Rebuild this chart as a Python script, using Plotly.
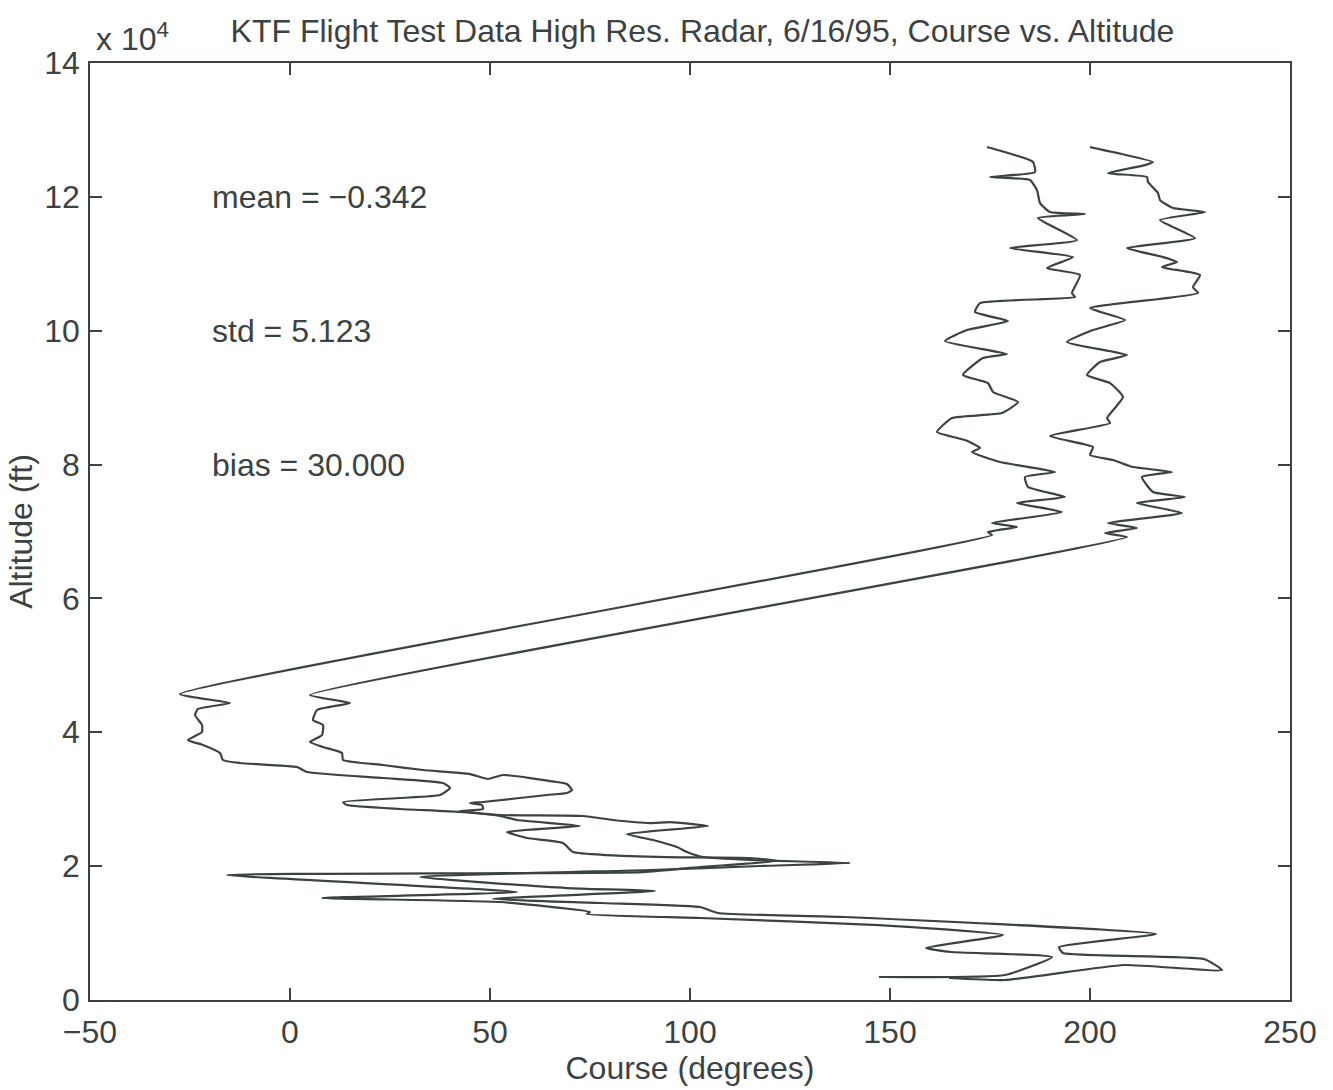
import plotly.graph_objects as go

# Left trace, ordered from top of plot downward
left_course = [174.25, 185.75, 186.25, 175, 185, 186.75, 187.5, 190, 198.75, 187,
               196.75, 180, 195.75, 189.25, 197.5, 195.5, 196.25, 172.5, 171.25, 179.5,
               169.25, 163.75, 179.25, 173.25, 168.25, 174.5, 175.75, 182, 178, 165.5,
               161.75, 168.75, 172.5, 170.5, 177.5, 191.25, 183.75, 184.5, 193.75, 181.75,
               193, 175.5, 181.75, 174.5, 175.5,
               -27.5, -15, -23, -23.75, -22, -22, -25.5, -21.75, -17.5, -16.75,
               -12.5, 1.75, 4.25, 23.25, 38.25, 40, 37.5, 27.5, 13.25, 14.25,
               27.5, 42.5, 52.5, 56.75, 72.5, 54.25, 59.25, 68.25, 70.75, 79.25,
               94.25, 115, 122, 102.5, 88.25, -15.75, 56.75, 8, 52.5, 75,
               74.25, 102.5, 147.25, 178.25, 159, 165.25, 190.5, 178.75, 147.25]
left_alt = [127440, 125200, 123700, 122960, 122510, 121010, 119070, 117730, 117430, 116830,
            113540, 112350, 111000, 109360, 108320, 105630, 105030, 104130, 102790, 101440,
            100100, 98450, 96510, 95910, 93380, 92180, 90840, 89340, 87700, 86950,
            84860, 83660, 82470, 81870, 80380, 78880, 78140, 76640, 75150, 74250,
            72910, 71260, 70670, 69920, 69470,
            45720, 44370, 43480, 42580, 41090, 40040, 38840, 38100, 36900, 35860,
            35410, 34810, 34060, 33170, 32420, 31670, 30630, 30180, 29580, 29130,
            28540, 28090, 27490, 26890, 26000, 25100, 24200, 23460, 22110, 21660,
            21360, 21210, 20770, 19870, 19120, 18680, 16140, 15240, 14640, 13150,
            12850, 12250, 11200, 9710, 7770, 7170, 6420, 3740, 3440]

# Right trace, ordered from top of plot downward
right_course = [200, 215.75, 213.75, 204.5, 214.25, 214.5, 217, 217.5, 220.75, 228.75,
                217.5, 226.25, 209.25, 218.25, 221.75, 218, 227.5, 225.75, 227, 200,
                208.75, 200.75, 194.25, 209.25, 202.5, 199.25, 205, 208.25, 204.25, 205,
                190, 200.75, 200, 205.75, 210.75, 220.5, 213, 215.75, 223.75, 211.75,
                223, 204.5, 211.75, 203.75, 209.25,
                5, 15, 6.75, 5.75, 8.25, 8, 5, 8.25, 13, 13.25,
                23.25, 33.25, 45, 49.5, 53.25, 66.75, 69.25, 70.5, 69.25, 64.25,
                48.25, 45, 48, 48.25, 42.5, 52.5, 73.25, 80.75, 90, 95,
                104.5, 84.25, 90.75, 96.75, 99.25, 103.25, 115, 140, 117.5, 90,
                32.5, 69.25, 91.25, 50.75, 77.5, 102.5, 107, 138.5, 216.5, 192.25,
                193.25, 228.5, 233, 208.5, 178.75, 164.75]
right_alt = [127440, 125200, 124750, 123550, 122960, 122210, 120570, 119520, 118330, 117730,
             116530, 113840, 112350, 111000, 110260, 109510, 108320, 106520, 105630, 103380,
             101590, 100100, 98310, 96360, 95320, 93380, 92180, 90090, 86950, 86200,
             84260, 82620, 81420, 80680, 79630, 78880, 78140, 75900, 75150, 74250,
             72760, 71260, 70520, 69770, 69170,
             45570, 44370, 43330, 41830, 41090, 39590, 38550, 37800, 36900, 35860,
             35110, 34360, 33760, 33020, 33620, 32570, 32270, 31370, 30930, 30630,
             29580, 29430, 29130, 28540, 28240, 27640, 27490, 26890, 26440, 26590,
             26000, 24800, 23900, 22860, 22110, 21360, 20920, 20470, 20020, 19420,
             18380, 16730, 16280, 15090, 14490, 13890, 13000, 12400, 9860, 7920,
             7020, 6130, 4480, 5230, 2990, 3290]

x_ticks = [-50, 0, 50, 100, 150, 200, 250]
y_ticks = [0, 20000, 40000, 60000, 80000, 100000, 120000, 140000]
y_tick_labels = ["0", "2", "4", "6", "8", "10", "12", "14"]

title_text = "KTF Flight Test Data High Res. Radar, 6/16/95, Course vs. Altitude"
stats_text = ["mean = \u22120.342", "std = 5.123", "bias = 30.000"]
stats_alt = [120000, 100000, 80000]

FONT = "Liberation Sans, Arial, Helvetica, sans-serif"
INK = "#3c4242"
FS = 32

fig = go.Figure()
for xs, ys in ((left_course, left_alt), (right_course, right_alt)):
    fig.add_trace(go.Scatter(x=xs, y=ys, mode="lines",
                             line=dict(color=INK, width=2.2, shape="spline", smoothing=0.45),
                             showlegend=False))

for txt, a in zip(stats_text, stats_alt):
    fig.add_annotation(x=-20, y=a, text=txt, showarrow=False, xanchor="left",
                       yanchor="middle", font=dict(size=FS, color=INK, family=FONT))

fig.add_annotation(xref="paper", yref="paper", x=0.003, y=1.0, yshift=4,
                   text="x 10<sup>4</sup>", showarrow=False, xanchor="left",
                   yanchor="bottom", font=dict(size=FS, color=INK, family=FONT))

fig.update_layout(
    width=1333, height=1090,
    margin=dict(l=90, r=43, t=63, b=90),
    paper_bgcolor="white", plot_bgcolor="white",
    font=dict(family=FONT, size=FS, color=INK),
    title=dict(text=title_text, x=0.527, xanchor="center", y=0.972, yanchor="middle",
               font=dict(size=FS, color=INK, family=FONT)),
    showlegend=False,
)
fig.update_xaxes(range=[-50, 250], tickvals=x_ticks,
                 ticktext=[("\u2212" + str(abs(v))) if v < 0 else str(v) for v in x_ticks],
                 ticks="inside", ticklen=12, tickwidth=1.5, tickcolor=INK,
                 ticklabelstandoff=3,
                 showline=True, linecolor=INK, linewidth=1.5, mirror="ticks",
                 showgrid=False, zeroline=False,
                 title=dict(text="Course (degrees)", standoff=2, font=dict(size=FS)))
fig.update_yaxes(range=[0, 140000], tickvals=y_ticks, ticktext=y_tick_labels,
                 ticks="inside", ticklen=12, tickwidth=1.5, tickcolor=INK,
                 ticklabelstandoff=2,
                 showline=True, linecolor=INK, linewidth=1.5, mirror="ticks",
                 showgrid=False, zeroline=False,
                 title=dict(text="Altitude (ft)", standoff=2, font=dict(size=FS)))

fig.write_html("out.html")
